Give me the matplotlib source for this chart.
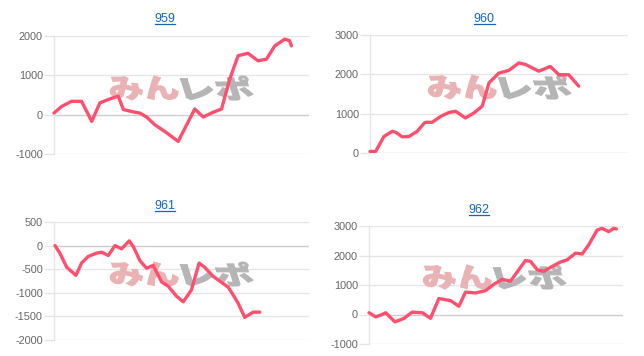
import matplotlib
matplotlib.use("Agg")
import matplotlib.pyplot as plt
from matplotlib.textpath import TextPath
from matplotlib.font_manager import FontProperties
from matplotlib.patches import PathPatch
from matplotlib.transforms import Affine2D, IdentityTransform

plt.rcParams['font.family'] = ['Liberation Sans', 'DejaVu Sans']

titles = ["959", "960", "961", "962"]

x959 = [0, 3.0, 6.9, 10.8, 14.8, 18.0, 21.9, 25.2, 27.2, 31.1, 33.7, 36.3, 39.6, 43.5, 48.7,
        55.2, 58.5, 62.4, 65.7, 68.9, 72.2, 76.1, 80.0, 83.3, 86.6, 90.5, 92.4, 93.1]
y959 = [40, 210, 340, 340, -170, 300, 400, 470, 130, 70, 40, -60, -260, -430, -680,
        145, -60, 60, 145, 900, 1500, 1560, 1370, 1410, 1750, 1920, 1880, 1750]

x960 = [0, 2.2, 5.4, 8.6, 9.9, 12.5, 15.1, 18.3, 20.9, 21.5, 24.1, 27.4, 30.6, 33.2, 37.0,
        40.3, 43.5, 46.1, 49.9, 53.8, 57.7, 60.3, 65.4, 69.9, 73.2, 77.0, 80.9]
y960 = [40, 40, 420, 550, 530, 410, 420, 550, 750, 780, 780, 930, 1030, 1060, 890,
        1020, 1190, 1780, 2030, 2100, 2290, 2250, 2080, 2200, 1990, 1990, 1700]

x961 = [0.4, 2.3, 5.0, 8.6, 10.8, 13.4, 16.7, 18.7, 21.3, 23.9, 26.5, 29.5, 31.1, 33.7, 36.3,
        38.9, 42.2, 44.8, 48.0, 50.7, 53.9, 56.9, 59.1, 62.4, 65.7, 68.3, 70.2, 72.2, 74.8,
        78.1, 80.7]
y961 = [0, -160, -460, -630, -370, -230, -160, -140, -210, 0, -70, 100, -20, -320, -480,
        -420, -770, -860, -1070, -1190, -940, -370, -460, -650, -780, -880, -1040, -1220, -1520,
        -1410, -1410]

x962 = [0, 2.6, 4.6, 6.6, 10.2, 13.8, 17.0, 21.0, 24.2, 27.5, 32.1, 35.4, 38.0, 41.9, 45.9,
        49.1, 52.4, 55.7, 59.0, 61.6, 63.6, 66.2, 68.8, 72.1, 75.4, 78.0, 81.3, 83.9, 86.5,
        89.8, 91.7, 94.4, 96.3, 97.4]
y962 = [60, -80, -20, 60, -250, -130, 80, 60, -130, 540, 470, 280, 760, 730, 810,
        1020, 1190, 1130, 1520, 1830, 1800, 1520, 1460, 1630, 1780, 1850, 2080, 2050, 2360,
        2860, 2920, 2810, 2920, 2900]

yticks959 = [-1000, 0, 1000, 2000]
yticks960 = [0, 1000, 2000, 3000]
yticks961 = [-2000, -1500, -1000, -500, 0, 500]
yticks962 = [-1000, 0, 1000, 2000, 3000]

W, H = 644, 356
fig = plt.figure(figsize=(W / 100, H / 100), dpi=100)

def px_rect(l, r, t, b):
    return [l / W, 1 - b / H, (r - l) / W, (b - t) / H]

panels = [
    (titles[0], x959, y959, yticks959, px_rect(54, 309, 36, 154), (165, 19), (180, 88)),
    (titles[1], x960, y960, yticks960, px_rect(370, 628, 35, 153), (484, 19), (498, 87)),
    (titles[2], x961, y961, yticks961, px_rect(54, 309, 222, 340), (165, 206), (180, 274)),
    (titles[3], x962, y962, yticks962, px_rect(369, 623, 226, 344), (479, 210), (493, 277)),
]

line_color = "#ff4f6e"
grid_color = "#e6e6e6"
zero_color = "#cccccc"
fp = FontProperties(family="Noto Sans CJK JP", weight="black")

def watermark(ax, cx, cy):
    # cx, cy in pixel coords from top-left
    parts = [("みん", "#e9b3b5", 68, -37), ("レポ", "#b5b5b5", 68, 37)]
    for txt, col, w, dx in parts:
        tp = TextPath((0, 0), txt, size=20, prop=fp)
        ext = tp.get_extents()
        sx = w / ext.width
        sy = 24 / ext.height
        tr = (Affine2D().translate(-ext.x0 - ext.width / 2, -ext.y0 - ext.height / 2)
              .scale(sx, sy).skew_deg(-18, 0)
              .translate(cx + dx, H - cy))
        path = tr.transform_path(tp)
        patch = PathPatch(path, facecolor=col, edgecolor=col, lw=0.8, joinstyle="round",
                          transform=IdentityTransform(), zorder=1.5, clip_on=False)
        ax.add_artist(patch)

title_texts = []
for title, xs, ys, yt, rect, tpos, wpos in panels:
    ax = fig.add_axes(rect)
    ax.plot(xs, ys, color=line_color, lw=2.4, solid_joinstyle="round", solid_capstyle="round",
            zorder=3, clip_on=False)
    ax.set_xlim(0, 100)
    ax.set_ylim(yt[0], yt[-1])
    ax.set_yticks(yt)
    ax.set_yticklabels([str(v) for v in yt])
    ax.set_xticks([])
    for v in yt:
        ax.axhline(v, color=zero_color if v == 0 else grid_color, lw=1, zorder=1)
    for s in ["top", "right", "bottom"]:
        ax.spines[s].set_visible(False)
    ax.spines["left"].set_color(grid_color)
    ax.spines["left"].set_linewidth(1)
    ax.tick_params(axis="y", length=7, width=1, color=grid_color, pad=1,
                   labelsize=7.8, labelcolor="#666666")
    watermark(ax, wpos[0], wpos[1])
    t = fig.text(tpos[0] / W, 1 - tpos[1] / H, title, ha="center", va="center",
                 color="#1565c0", fontsize=9)
    title_texts.append(t)

fig.canvas.draw()
renderer = fig.canvas.get_renderer()
for t in title_texts:
    bb = t.get_window_extent(renderer)
    y = bb.y0 + 1
    fig.add_artist(plt.Line2D([bb.x0 / W, bb.x1 / W], [y / H, y / H], color="#1565c0", lw=0.9,
                              transform=fig.transFigure))

fig.savefig("out.png", dpi=100)
